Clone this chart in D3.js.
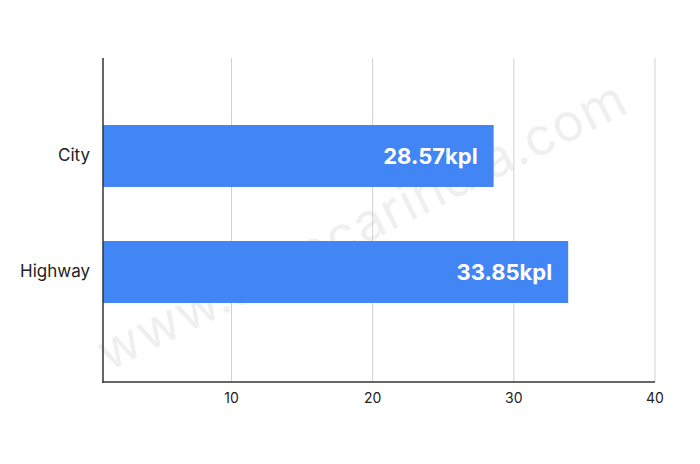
<!DOCTYPE html>
<html><head><meta charset="utf-8">
<script src="https://cdn.jsdelivr.net/npm/d3@7"></script>
<style>body{margin:0;background:#fff}svg{display:block}</style>
</head><body>
<svg id="c" width="700" height="464"></svg>
<script>
const categories = ["City", "Highway"];
const values = [28.57, 33.85];
const valueLabels = ["28.57kpl", "33.85kpl"];
const tickValues = [10, 20, 30, 40];

const svg = d3.select("#c");
const mLeft = 103, mRight = 655, mTop = 58, mBottom = 382;
const x = d3.scaleLinear().domain([0.9, 40]).range([mLeft, mRight]);
const y = d3.scaleBand().domain(categories).range([98, 330]).paddingInner(0.466).paddingOuter(0.233);
const font = "Inter, 'Open Sans', sans-serif";

// watermark
svg.append("text").attr("transform", "translate(108,372) rotate(-26.5)")
  .attr("font-family", font).attr("font-size", 52)
  .attr("fill", "#efefef").attr("letter-spacing", 1).text("www.autocarindia.com");

// gridlines
svg.append("g").selectAll("line").data(tickValues).join("line")
  .attr("x1", d => x(d)).attr("x2", d => x(d)).attr("y1", mTop).attr("y2", mBottom)
  .attr("stroke", "#d0d0d0").attr("stroke-width", 1);

// bars
svg.append("g").selectAll("rect").data(categories).join("rect")
  .attr("x", x(0.9)).attr("y", d => y(d)).attr("height", y.bandwidth())
  .attr("width", (d, i) => x(values[i]) - x(0.9)).attr("fill", "#4285f4");

// value labels
svg.append("g").selectAll("text").data(categories).join("text")
  .attr("x", (d, i) => x(values[i]) - 16).attr("y", d => y(d) + y.bandwidth() / 2)
  .attr("dy", "0.36em").attr("text-anchor", "end")
  .attr("font-family", font).attr("font-weight", 700)
  .attr("font-size", 22).attr("fill", "#fff").text((d, i) => valueLabels[i]);

// category labels
svg.append("g").selectAll("text").data(categories).join("text")
  .attr("x", 90).attr("y", d => y(d) + y.bandwidth() / 2 - 1)
  .attr("dy", "0.36em").attr("text-anchor", "end")
  .attr("font-family", font).attr("font-size", 17)
  .attr("fill", "#222").text(d => d);

// tick labels
svg.append("g").selectAll("text").data(tickValues).join("text")
  .attr("x", d => x(d)).attr("y", 403).attr("text-anchor", "middle")
  .attr("font-family", font).attr("font-size", 14)
  .attr("fill", "#222").text(d => d);

// axes lines
svg.append("line").attr("x1", mLeft).attr("x2", mLeft).attr("y1", mTop).attr("y2", mBottom + 0.75)
  .attr("stroke", "#333").attr("stroke-width", 1.5);
svg.append("line").attr("x1", mLeft - 0.75).attr("x2", mRight).attr("y1", mBottom).attr("y2", mBottom)
  .attr("stroke", "#333").attr("stroke-width", 1.5);
</script>
</body></html>
